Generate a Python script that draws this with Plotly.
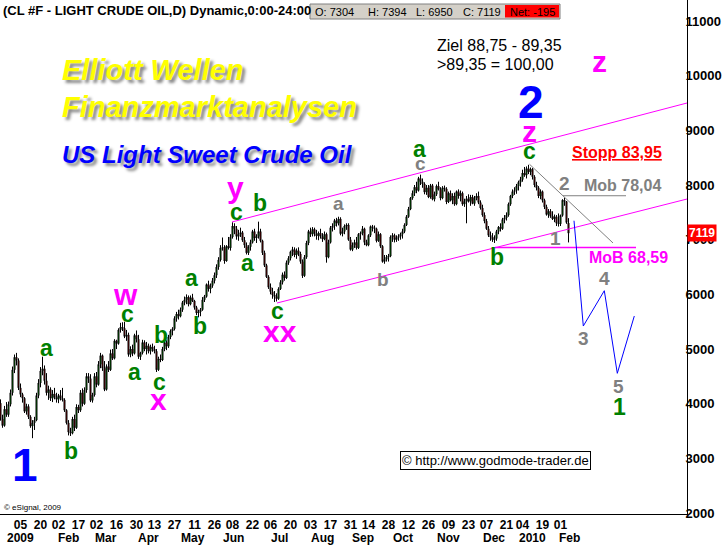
import plotly.graph_objects as go

FONT = "Liberation Sans, Arial, sans-serif"

# ---------------- daily bars: index 0 = 18 Dec 2008 ... 284 = 05 Feb 2010 (price x100) -------------
opens = [
    4010, 3720, 3600, 3900, 3800, 3990, 4200, 4620, 4850, 4790,
    4290, 4170, 4100, 3860, 3950, 3760, 3590, 3650, 3700, 4150,
    4380, 4600, 4640, 4420, 4200, 4260, 4100, 4180, 4120, 4080,
    4150, 4100, 4070, 3880, 3650, 3480, 3460, 3720, 3560, 3940,
    3880, 4200, 4000, 4250, 4500, 4460, 4060, 4160, 4500, 4350,
    4720, 4880, 4650, 4260, 4680, 4620, 4920, 4830, 5150, 5100,
    5350, 5400, 5380, 5230, 5260, 4900, 5000, 4920, 5250, 5180,
    4860, 4930, 5120, 5000, 5060, 4960, 5040, 5000, 4960, 4620,
    4820, 4800, 5000, 5120, 5050, 5220, 5330, 5370, 5560, 5640,
    5600, 5720, 5850, 5900, 5950, 5820, 5940, 5880, 5760, 5660,
    5680, 5720, 5900, 5960, 6180, 6100, 6160, 6250, 6350, 6500,
    6630, 6850, 6860, 6610, 6880, 6850, 7050, 7250, 7200, 7060,
    7100, 7130, 6990, 6900, 6760, 6870, 6950, 7150, 7030, 7060,
    7150, 6980, 6760, 6530, 6320, 6130, 6050, 5990, 5960, 5920,
    6100, 6220, 6360, 6300, 6580, 6660, 6780, 6820, 6720, 6800,
    6740, 6600, 6340, 6680, 6940, 7150, 7100, 7190, 7110, 7070,
    7120, 7060, 7010, 7100, 6680, 6950, 7220, 7250, 7350, 7300,
    7380, 7110, 7150, 7250, 7270, 7000, 6820, 6900, 6950, 6850,
    7100, 7120, 7200, 6950, 6900, 7080, 7240, 7220, 7200, 6980,
    7100, 6880, 6600, 6640, 6680, 6700, 7050, 7080, 7000, 7040,
    7060, 7100, 7150, 7270, 7420, 7560, 7760, 7850, 7960, 7900,
    8120, 8060, 8020, 7870, 7950, 7780, 7990, 7740, 7830, 7980,
    7920, 7760, 7950, 7930, 7690, 7850, 7720, 7800, 7650, 7880,
    7800, 7850, 7650, 7700, 7750, 7700, 7780, 7660, 7760, 7800,
    7680, 7580, 7450, 7340, 7200, 7080, 7050, 7000, 7020, 7150,
    7230, 7200, 7370, 7400, 7450, 7650, 7800, 7880, 7900, 7980,
    8050, 8100, 8220, 8180, 8300, 8240, 8290, 8150, 8000, 7950,
    7800, 7880, 7720, 7600, 7460, 7520, 7430, 7380, 7420, 7300,
    7289, 7443, 7723, 7698, 7304,
]
highs = [
    4080, 3800, 3960, 4030, 4040, 4260, 4680, 4900, 4930, 4830,
    4370, 4200, 4120, 4000, 3990, 3790, 3700, 3760, 4200, 4450,
    4670, 4860, 4700, 4560, 4330, 4300, 4250, 4290, 4200, 4180,
    4250, 4290, 4100, 3900, 3700, 3560, 3760, 3800, 3990, 3980,
    4250, 4280, 4300, 4560, 4560, 4540, 4200, 4560, 4580, 4780,
    4930, 4900, 4780, 4720, 4780, 4990, 5000, 5180, 5170, 5380,
    5480, 5490, 5500, 5350, 5300, 5050, 5080, 5280, 5340, 5260,
    4950, 5170, 5160, 5130, 5100, 5080, 5100, 5060, 5000, 4860,
    4900, 5040, 5150, 5160, 5260, 5360, 5400, 5600, 5680, 5720,
    5760, 5880, 5960, 6000, 5980, 5980, 6010, 5900, 5790, 5720,
    5750, 5950, 5990, 6200, 6250, 6200, 6300, 6400, 6550, 6680,
    6900, 7040, 6900, 6900, 7050, 7100, 7320, 7300, 7250, 7180,
    7220, 7160, 7050, 6950, 6900, 7000, 7180, 7200, 7100, 7330,
    7200, 7000, 6800, 6560, 6350, 6200, 6120, 6060, 6020, 6130,
    6260, 6400, 6420, 6620, 6700, 6800, 6870, 6860, 6840, 6860,
    6780, 6640, 6720, 6980, 7180, 7220, 7230, 7220, 7180, 7150,
    7200, 7120, 7150, 7130, 7000, 7250, 7300, 7380, 7400, 7420,
    7410, 7220, 7280, 7300, 7300, 7050, 6950, 7000, 7050, 7120,
    7150, 7250, 7220, 7000, 7100, 7260, 7270, 7260, 7220, 7150,
    7120, 6900, 6720, 6720, 6740, 7080, 7120, 7110, 7080, 7100,
    7130, 7200, 7300, 7450, 7600, 7780, 7900, 8000, 8060, 8150,
    8190, 8120, 8050, 8000, 8000, 8020, 8020, 7880, 8010, 8060,
    7960, 7980, 7990, 7960, 7880, 7900, 7850, 7860, 7900, 7920,
    7900, 7880, 7750, 7800, 7830, 7820, 7820, 7800, 7850, 7880,
    7720, 7640, 7500, 7380, 7250, 7150, 7120, 7080, 7180, 7250,
    7300, 7400, 7450, 7500, 7680, 7820, 7920, 7960, 8020, 8080,
    8150, 8280, 8330, 8340, 8370, 8320, 8310, 8180, 8060, 7980,
    7920, 7900, 7750, 7640, 7560, 7560, 7520, 7460, 7450, 7480,
    7460, 7740, 7770, 7700, 7394,
]
lows = [
    3690, 3560, 3580, 3760, 3760, 3950, 4150, 4560, 4700, 4250,
    4120, 4020, 3830, 3800, 3720, 3560, 3370, 3520, 3680, 4100,
    4300, 4520, 4350, 4150, 4070, 4050, 4030, 4080, 4020, 4010,
    4060, 4040, 3850, 3620, 3420, 3410, 3440, 3500, 3540, 3830,
    3850, 3950, 3980, 4200, 4380, 4030, 4020, 4130, 4300, 4330,
    4650, 4600, 4230, 4240, 4580, 4600, 4800, 4810, 5000, 5080,
    5300, 5330, 5200, 5150, 4860, 4850, 4870, 4900, 5120, 4820,
    4800, 4900, 4960, 4900, 4920, 4900, 4950, 4920, 4580, 4600,
    4760, 4780, 4960, 4980, 5020, 5180, 5250, 5340, 5500, 5540,
    5580, 5680, 5800, 5820, 5780, 5800, 5860, 5720, 5620, 5580,
    5600, 5700, 5860, 5940, 6050, 6020, 6120, 6200, 6300, 6450,
    6600, 6800, 6560, 6600, 6820, 6800, 7020, 7100, 7000, 6980,
    7050, 6960, 6850, 6730, 6720, 6800, 6930, 6980, 6940, 7020,
    6950, 6720, 6500, 6300, 6100, 6000, 5920, 5860, 5870, 5900,
    6080, 6180, 6250, 6280, 6540, 6620, 6700, 6680, 6650, 6700,
    6560, 6300, 6320, 6650, 6900, 7050, 7060, 7060, 7000, 6990,
    7020, 6960, 6990, 6580, 6660, 6930, 7150, 7180, 7240, 7260,
    7080, 7060, 7100, 7180, 6980, 6800, 6790, 6850, 6820, 6830,
    7000, 7080, 6900, 6880, 6880, 7050, 7150, 7120, 6950, 6960,
    6850, 6580, 6560, 6600, 6600, 6680, 6960, 6950, 6960, 6980,
    7000, 7020, 7120, 7250, 7400, 7540, 7730, 7800, 7850, 7880,
    8000, 7950, 7830, 7820, 7760, 7750, 7720, 7700, 7800, 7900,
    7720, 7740, 7880, 7650, 7670, 7700, 7650, 7620, 7630, 7750,
    7700, 7620, 7600, 7300, 7680, 7620, 7650, 7620, 7720, 7650,
    7550, 7420, 7300, 7180, 7050, 6980, 6960, 6940, 6980, 7100,
    7150, 7180, 7300, 7350, 7420, 7620, 7760, 7820, 7840, 7900,
    7970, 8060, 8150, 8120, 8200, 8180, 8100, 7960, 7900, 7760,
    7740, 7680, 7560, 7440, 7400, 7400, 7360, 7320, 7250, 7240,
    7250, 7420, 7620, 7290, 6950,
]
closes = [
    3720, 3600, 3900, 3800, 3990, 4200, 4620, 4850, 4790, 4290,
    4170, 4100, 3860, 3950, 3760, 3590, 3650, 3700, 4150, 4380,
    4600, 4640, 4420, 4200, 4260, 4100, 4180, 4120, 4080, 4150,
    4100, 4070, 3880, 3650, 3480, 3460, 3720, 3560, 3940, 3880,
    4200, 4000, 4250, 4500, 4460, 4060, 4160, 4500, 4350, 4720,
    4880, 4650, 4260, 4680, 4620, 4920, 4830, 5150, 5100, 5350,
    5400, 5380, 5230, 5260, 4900, 5000, 4920, 5250, 5180, 4860,
    4930, 5120, 5000, 5060, 4960, 5040, 5000, 4960, 4620, 4820,
    4800, 5000, 5120, 5050, 5220, 5330, 5370, 5560, 5640, 5600,
    5720, 5850, 5900, 5950, 5820, 5940, 5880, 5760, 5660, 5680,
    5720, 5900, 5960, 6180, 6100, 6160, 6250, 6350, 6500, 6630,
    6850, 6860, 6610, 6880, 6850, 7050, 7250, 7200, 7060, 7100,
    7130, 6990, 6900, 6760, 6870, 6950, 7150, 7030, 7060, 7150,
    6980, 6760, 6530, 6320, 6130, 6050, 5990, 5960, 5920, 6100,
    6220, 6360, 6300, 6580, 6660, 6780, 6820, 6720, 6800, 6740,
    6600, 6340, 6680, 6940, 7150, 7100, 7190, 7110, 7070, 7120,
    7060, 7010, 7100, 6680, 6950, 7220, 7250, 7350, 7300, 7380,
    7110, 7150, 7250, 7270, 7000, 6820, 6900, 6950, 6850, 7100,
    7120, 7200, 6950, 6900, 7080, 7240, 7220, 7200, 6980, 7100,
    6880, 6600, 6640, 6680, 6700, 7050, 7080, 7000, 7040, 7060,
    7100, 7150, 7270, 7420, 7560, 7760, 7850, 7960, 7900, 8120,
    8060, 8020, 7870, 7950, 7780, 7990, 7740, 7830, 7980, 7920,
    7760, 7950, 7930, 7690, 7850, 7720, 7800, 7650, 7880, 7800,
    7850, 7650, 7700, 7750, 7700, 7780, 7660, 7760, 7800, 7680,
    7580, 7450, 7340, 7200, 7080, 7050, 7000, 7020, 7150, 7230,
    7200, 7370, 7400, 7450, 7650, 7800, 7880, 7900, 7980, 8050,
    8100, 8220, 8180, 8300, 8240, 8290, 8150, 8000, 7950, 7800,
    7880, 7720, 7600, 7460, 7520, 7430, 7380, 7420, 7300, 7289,
    7443, 7723, 7698, 7314, 7119,
]
bar_index = list(range(len(closes)))

# ---------------- axis labels ----------------
day_tick_index = [10, 20, 29, 39, 48, 58, 68, 77, 87, 97, 107, 116, 126, 135, 145,
                  155, 165, 175, 184, 194, 204, 214, 224, 234, 243, 253, 261, 271, 280]
day_tick_text = ["05", "20", "02", "17", "02", "16", "30", "13", "27", "11", "26", "08", "22", "06", "20",
                 "03", "17", "31", "14", "28", "12", "26", "09", "23", "07", "21", "04", "19", "01"]
month_text = ["2009", "Feb", "Mar", "Apr", "May", "Jun", "Jul", "Aug", "Sep", "Oct", "Nov", "Dec", "2010", "Feb"]
month_index = [10, 34, 52.5, 74, 96, 116.5, 139.5, 161, 181, 201, 224, 246.75, 265.75, 284.25]
price_ticks = [2000, 3000, 4000, 5000, 6000, 7000, 8000, 9000, 10000, 11000]

# ---------------- analyst drawings (bar index, price) ----------------
upper_channel_x = [115.75, 343.25]
upper_channel_y = [7324, 9500]
lower_channel_x = [138.25, 343.25]
lower_channel_y = [5842, 7744]
mob_low_x = [247.25, 317.75]
mob_low_y = [6859, 6859]
mob_high_x = [281.25, 312.75]
mob_high_y = [7804, 7804]
trend_x = [264.5, 306.25]
trend_y = [8380, 6940]
proj_x = [286.75, 291.4, 301.9, 308.4, 316.9]
proj_y = [7347, 5421, 6067, 4556, 5604]

# wave labels (text, bar index, price)
green_labels = [("a", 22.75, 5018), ("b", 35.25, 3135), ("c", 63.25, 5639), ("a", 66.75, 4588),
                ("b", 80.25, 5257), ("c", 79.25, 4396), ("a", 95.25, 6298), ("b", 99.75, 5421),
                ("c", 117.75, 7505), ("a", 123.5, 6572), ("b", 129.75, 7671), ("c", 138.25, 5703),
                ("a", 209.5, 8657), ("b", 248.25, 6683), ("c", 264.5, 8621), ("1", 309.25, 3949)]
gray_labels = [("a", 169, 7663), ("b", 191, 6263), ("c", 209.75, 8394), ("2", 282, 8019),
               ("1", 277.25, 7031), ("3", 291.25, 5184), ("4", 301.75, 6290), ("5", 308.75, 4315)]
magenta_labels = [("w", 62.25, 5997), ("x", 79, 4086), ("y", 117.5, 7954), ("xx", 139.75, 5329),
                  ("z", 264.5, 8987), ("z", 299.25, 10258)]
blue_labels = [("1", 12.25, 2879), ("2", 265.25, 9518)]

last_close = closes[-1]

GREEN = "#008000"
GRAY = "#808080"
MAGENTA = "#FF00FF"
BLUE = "#0000FF"

fig = go.Figure()
fig.add_trace(go.Candlestick(
    x=bar_index, open=opens, high=highs, low=lows, close=closes,
    increasing=dict(line=dict(color="black", width=1), fillcolor="#00C000"),
    decreasing=dict(line=dict(color="black", width=1), fillcolor="#D00000"),
    whiskerwidth=0, showlegend=False, hoverinfo="skip"))


def line_trace(x, y, color, width, dash=None):
    fig.add_trace(go.Scatter(x=x, y=y, mode="lines", hoverinfo="skip", showlegend=False,
                             line=dict(color=color, width=width, dash=dash)))


line_trace(upper_channel_x, upper_channel_y, MAGENTA, 1)
line_trace(lower_channel_x, lower_channel_y, MAGENTA, 1)
line_trace(mob_low_x, mob_low_y, MAGENTA, 1.5)
line_trace(mob_high_x, mob_high_y, GRAY, 1)
line_trace(trend_x, trend_y, GRAY, 1)
line_trace(proj_x, proj_y, BLUE, 1)


def wave(labels, color, size):
    for t, x, y in labels:
        fig.add_annotation(x=x, y=y, xref="x", yref="y", text=f"<b>{t}</b>", showarrow=False,
                           xanchor="center", yanchor="middle",
                           font=dict(family=FONT, size=size, color=color))


wave(green_labels, GREEN, 23)
wave(gray_labels, GRAY, 19)
wave(magenta_labels, MAGENTA, 30)
wave(blue_labels, BLUE, 46)

PW, PH = 687.0, 514.0


def ptext(text, px, py, size, color="black", anchor="left", **kw):
    fig.add_annotation(x=px / PW, y=1 - py / PH, xref="paper", yref="paper", text=text,
                       showarrow=False, xanchor=anchor, yanchor="middle",
                       font=dict(family=FONT, size=size, color=color, **kw))


# level texts (data coords)
def dtext(text, x, y, size, color, **kw):
    fig.add_annotation(x=x, y=y, xref="x", yref="y", text=text, showarrow=False,
                       xanchor="left", yanchor="middle",
                       font=dict(family=FONT, size=size, color=color, **kw))


dtext("<b><u>Stopp 83,95</u></b>", 284.5, 8595, 16, "#FF0000")
dtext("<b>Mob 78,04</b>", 290.5, 8000, 16, GRAY)
dtext("<b>MoB 68,59</b>", 293.0, 6674, 16, MAGENTA)

# headline texts
shadow = "3px 3px 3px #8a8a8a"
ptext("<b><i>Elliott Wellen</i></b>", 60, 70, 29, "#FFFF00", shadow=shadow)
ptext("<b><i>Finanzmarktanalysen</i></b>", 60, 107, 29, "#FFFF00", shadow=shadow)
ptext("<b><i>US Light Sweet Crude Oil</i></b>", 60, 154, 24, BLUE, shadow=shadow)

ptext("Ziel 88,75 - 89,35", 435, 45, 16)
ptext("&gt;89,35 = 100,00", 435, 64, 16)

# header bar
ptext("<b>(CL #F - LIGHT CRUDE OIL,D) Dynamic,0:00-24:00</b>", 1, 10.5, 13)
fig.add_shape(type="rect", xref="paper", yref="paper", x0=310 / PW, x1=560 / PW,
              y0=1 - 19 / PH, y1=1 - 4 / PH, fillcolor="#D4D0C8",
              line=dict(color="#808080", width=1))
fig.add_shape(type="rect", xref="paper", yref="paper", x0=505 / PW, x1=559 / PW,
              y0=1 - 17.5 / PH, y1=1 - 5 / PH, fillcolor="#FF0000", line=dict(width=0))
ptext(f"O: {opens[-1]}", 313, 11.5, 11)
ptext(f"H: {highs[-1]}", 366, 11.5, 11)
ptext(f"L: {lows[-1]}", 414, 11.5, 11)
ptext(f"C: {last_close}", 461, 11.5, 11)
ptext(f"Net: {last_close - closes[-2]}", 508, 11.5, 11)

# copyright boxes
fig.add_annotation(x=495.5 / PW, y=1 - 460 / PH, xref="paper", yref="paper",
                   text="© http://www.godmode-trader.de", showarrow=False,
                   xanchor="center", yanchor="middle", bgcolor="white",
                   bordercolor="black", borderwidth=1, borderpad=1,
                   font=dict(family=FONT, size=13, color="black"))
ptext("© eSignal, 2009", 2, 507, 8)

# last price marker on the right axis
fig.add_annotation(x=1.0, y=last_close, xref="paper", yref="y", text=f"<b>{last_close}</b>",
                   showarrow=False, xanchor="left", yanchor="middle", bgcolor="#FF0000",
                   borderpad=1, font=dict(family=FONT, size=12, color="white"))

# month row of the time axis
for t, x in zip(month_text, month_index):
    fig.add_annotation(x=x, y=1 - 538 / PH, xref="x", yref="paper", text=f"<b>{t}</b>",
                       showarrow=False, xanchor="center", yanchor="middle",
                       font=dict(family=FONT, size=12, color="black"))

fig.update_layout(
    template="none", width=725, height=547,
    margin=dict(l=0, r=38, t=0, b=33),
    paper_bgcolor="white", plot_bgcolor="white", showlegend=False,
    xaxis=dict(range=[-0.25, 343.25], showgrid=False, zeroline=False, showline=True,
               linecolor="black", linewidth=1, ticks="", ticklen=0, tickmode="array",
               tickvals=day_tick_index, ticktext=[f"<b>{t}</b>" for t in day_tick_text],
               tickfont=dict(family=FONT, size=12, color="black"),
               rangeslider=dict(visible=False), fixedrange=True),
    yaxis=dict(range=[1983, 11384], side="right", showgrid=False, zeroline=False,
               showline=True, linecolor="black", linewidth=1, ticks="", ticklen=0, tickmode="array",
               tickvals=price_ticks, ticktext=[f"<b>{v}</b>" for v in price_ticks],
               ticklabelstandoff=-5,
               tickfont=dict(family=FONT, size=13, color="black"), fixedrange=True),
)

fig.write_html("out.html", config={"displayModeBar": False},
               post_script="document.body.style.margin='0px';")
